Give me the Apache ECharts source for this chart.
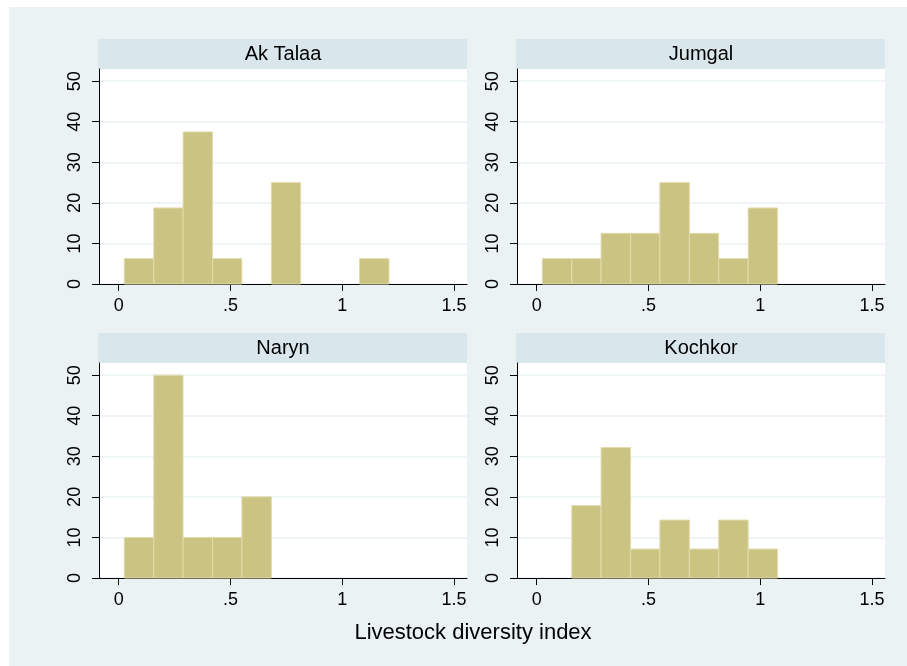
<!DOCTYPE html>
<html>
<head>
<meta charset="utf-8">
<script src="https://cdn.jsdelivr.net/npm/echarts@6/dist/echarts.min.js"></script>
<style>
  html, body { margin: 0; padding: 0; background: #fff; }
  #chart { width: 907px; height: 666px; }
</style>
</head>
<body>
<div id="chart"></div>
<script>
// histogram bins shared by all districts (left edges + last right edge)
const binEdges = [0.025, 0.157, 0.288, 0.420, 0.551, 0.683, 0.814, 0.946, 1.077, 1.209];
const districts = ['Ak Talaa', 'Jumgal', 'Naryn', 'Kochkor'];
// percent per bin
const akTalaa = [6.25, 18.75, 37.5, 6.25, 0, 25, 0, 0, 6.25];
const jumgal = [6.25, 6.25, 12.5, 12.5, 25, 12.5, 6.25, 18.75, 0];
const naryn = [10, 50, 10, 10, 20, 0, 0, 0, 0];
const kochkor = [0, 17.86, 32.14, 7.14, 14.29, 7.14, 14.29, 7.14, 0];
const xTicks = [0, 0.5, 1, 1.5];
const yTicks = [0, 10, 20, 30, 40, 50];
const xTitle = 'Livestock diversity index';

const percents = [akTalaa, jumgal, naryn, kochkor];
const font = 'Liberation Sans, Arial, Helvetica, sans-serif';

// panel layout in px
const panels = [
  { left: 99, top: 69 },
  { left: 517, top: 69 },
  { left: 99, top: 363 },
  { left: 517, top: 363 }
];
const plotW = 368, plotH = 215, barH = 30;

const chart = echarts.init(document.getElementById('chart'), null, { renderer: 'canvas' });

const grids = [], xAxes = [], yAxes = [], series = [];
const graphics = [
  { type: 'rect', left: 9, top: 7, shape: { x: 0, y: 0, width: 898, height: 659 }, style: { fill: '#EAF2F3' }, z: -10 }
];

panels.forEach((p, i) => {
  grids.push({
    left: p.left, top: p.top, width: plotW, height: plotH,
    show: true, backgroundColor: '#fff', borderWidth: 0
  });
  graphics.push({
    type: 'rect',
    shape: { x: p.left - 1, y: p.top - barH, width: plotW + 1, height: barH },
    style: { fill: '#D9E6EB' }
  });
  graphics.push({
    type: 'text',
    x: p.left + plotW / 2, y: p.top - barH / 2,
    style: {
      text: districts[i], font: '20px ' + font, fill: '#000',
      textAlign: 'center', textVerticalAlign: 'middle'
    }
  });
  xAxes.push({
    type: 'value', gridIndex: i, min: -0.088, max: 1.558,
    axisLine: { show: true, onZero: false, lineStyle: { color: '#000', width: 1 } },
    axisTick: { show: true, length: 7, customValues: xTicks, lineStyle: { color: '#000' } },
    axisLabel: {
      customValues: xTicks, margin: 13, fontSize: 18, fontFamily: font, color: '#000',
      formatter: v => (v === 0 ? '0' : String(v).replace(/^0\./, '.'))
    },
    splitLine: { show: false }
  });
  yAxes.push({
    type: 'value', gridIndex: i, min: 0, max: 53,
    axisLine: { show: true, onZero: false, lineStyle: { color: '#000', width: 1 } },
    axisTick: { show: true, length: 7, customValues: yTicks, lineStyle: { color: '#000' } },
    axisLabel: {
      customValues: yTicks, rotate: 90, margin: 15, fontSize: 18, fontFamily: font, color: '#000'
    },
    splitLine: { show: true, lineStyle: { color: '#EAF2F3', width: 1.5 } }
  });
  const data = [];
  percents[i].forEach((v, k) => {
    if (v > 0) data.push([binEdges[k], binEdges[k + 1], v]);
  });
  series.push({
    type: 'custom', xAxisIndex: i, yAxisIndex: i,
    encode: { x: [0, 1], y: 2 },
    data: data,
    renderItem: (params, api) => {
      const a = api.coord([api.value(0), 0]);
      const b = api.coord([api.value(1), api.value(2)]);
      return {
        type: 'rect',
        shape: { x: a[0], y: b[1], width: b[0] - a[0], height: a[1] - b[1] },
        style: { fill: '#CBC382', stroke: '#E2DCAE', lineWidth: 1 }
      };
    }
  });
});

graphics.push({
  type: 'text', x: 473, y: 633,
  style: {
    text: xTitle, font: '22px ' + font, fill: '#000',
    textAlign: 'center', textVerticalAlign: 'middle'
  }
});

chart.setOption({
  backgroundColor: '#fff',
  animation: false,
  grid: grids,
  xAxis: xAxes,
  yAxis: yAxes,
  series: series,
  graphic: graphics
});
</script>
</body>
</html>
